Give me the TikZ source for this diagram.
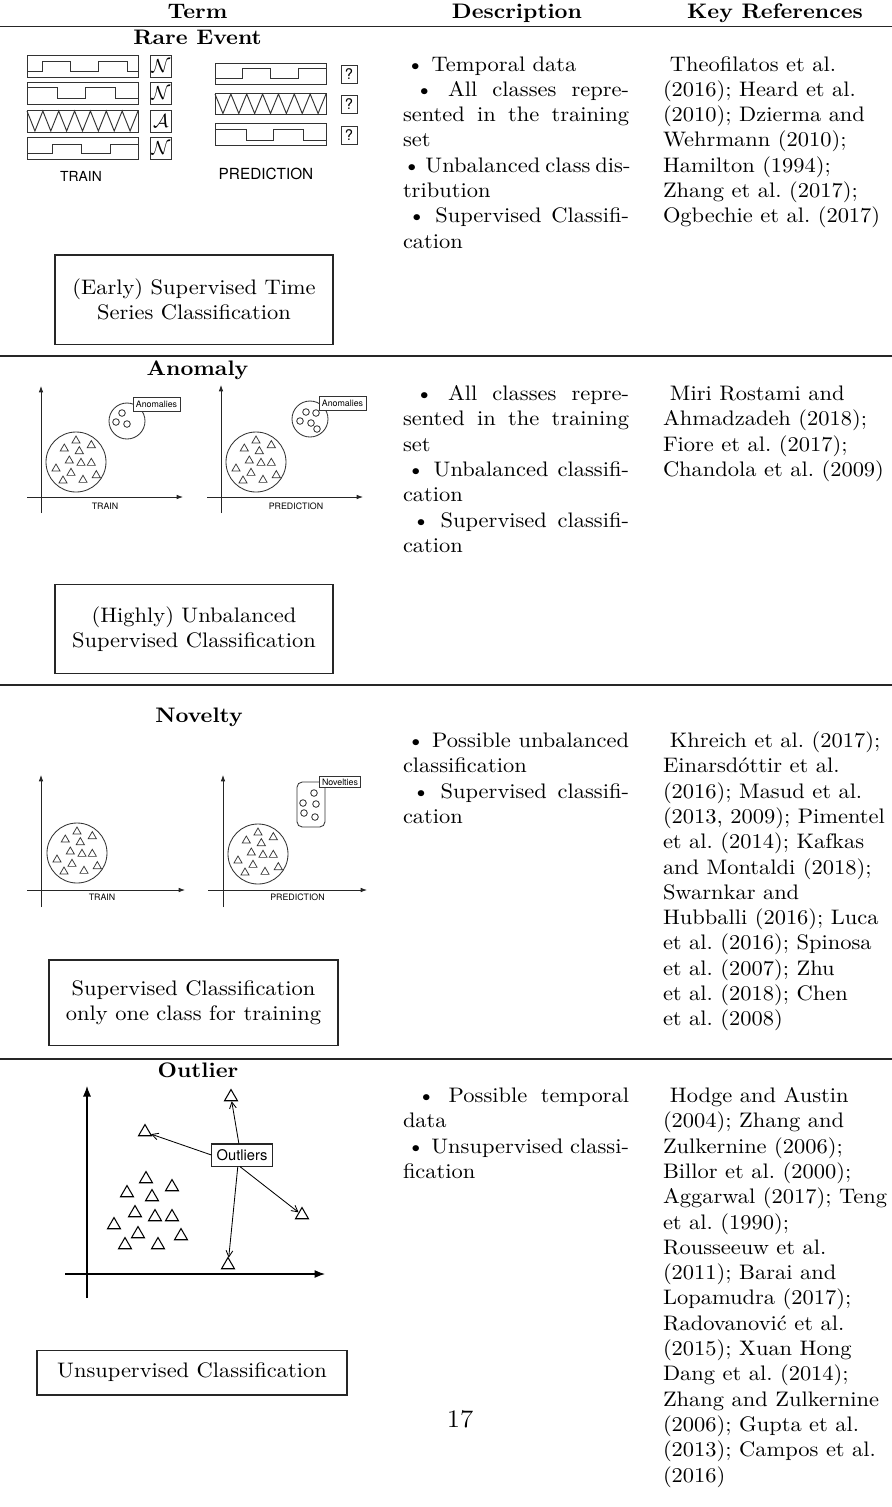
\documentclass[tikz,border=0pt]{standalone}
\usepackage{fontspec}
\usepackage{graphicx}
\newfontfamily\hv{TeX Gyre Heros}
\usetikzlibrary{arrows.meta,shapes.geometric}
% body text is set slightly wide
\newcommand\hs[1]{\scalebox{1.07}[1]{#1}}
\newlength\dw
\setlength\dw{100.6pt}
% justified description line
\newcommand\jl[1]{\makebox[\dw][s]{#1}}
% triangle cluster: prefix, centre x, centre y
\newcommand\cluster[3]{%
  \foreach \dx/\dy [count=\i] in {0/-22.3,-11.7/-14.3,15.3/-17.7,3.3/-11.7,-6.7/-2.3,5/0,15.3/0,-20/5.7,-5/10,20.3/12.3,-13/17.7,7/17}
    \node[stri] (#1\i) at (#2+\dx,#3+\dy+1) {};
  \draw[ln] (#2,#3) circle[radius=30];
}
\begin{document}
\frenchspacing
\begin{tikzpicture}[x=0.4762pt,y=-0.4762pt,
  txt/.style={anchor=base west,inner sep=0pt,outer sep=0pt},
  ttl/.style={anchor=base,inner sep=0pt,font=\bfseries},
  hrule/.style={line width=0.5pt,draw=black!85},
  ln/.style={draw=black!80,line width=0.4pt},
  wave/.style={draw=black!80,line width=0.45pt,line join=miter},
  tag/.style={draw=black!80,line width=0.45pt,inner sep=0pt,minimum width=10pt,minimum height=10.5pt,font=\small},
  qtag/.style={draw=black!80,line width=0.45pt,inner sep=0pt,minimum width=7.6pt,minimum height=8.6pt,font=\hv\fontsize{7}{8}\selectfont},
  ax/.style={draw=black!85,line width=0.4pt,-{Latex[length=3pt,width=2.2pt]}},
  bigax/.style={draw=black,line width=0.5pt,-{Latex[length=5pt,width=3.8pt]}},
  stri/.style={regular polygon,regular polygon sides=3,draw=black!80,line width=0.35pt,inner sep=0pt,minimum size=4.5pt},
  btri/.style={regular polygon,regular polygon sides=3,draw=black,line width=0.5pt,inner sep=0pt,minimum size=7.1pt},
  flag/.style={draw=black!80,fill=white,line width=0.35pt,inner sep=0pt,font=\hv\fontsize{4.2}{5}\selectfont},
  lbl/.style={anchor=base,inner sep=0pt},
  sumbox/.style={draw=black!85,line width=0.5pt,align=center,inner sep=0pt},
  oarr/.style={draw=black,line width=0.4pt,-{Straight Barb[length=3pt,width=3.2pt]}}]

\fill[white] (0,0) rectangle (892,1507);
\useasboundingbox (0,0) rectangle (892,1507);

% ---------- header ----------
\node[ttl] (hterm) at (197.5,18.5) {\hs{Term}};
\node[ttl] (hdesc) at (517,18.5) {\hs{Description}};
\node[ttl] (hrefs) at (775,18.5) {\hs{Key References}};
\draw[hrule] (0,26.7) -- (892,26.7);
\draw[hrule] (0,356) -- (892,356);
\draw[hrule] (0,685) -- (892,685);
\draw[hrule] (0,1059) -- (892,1059);

% ---------- rare event ----------
\node[ttl] (trare) at (197.5,44.3) {\hs{Rare Event}};
% training series
\draw[ln] (27,55) rectangle (138,77);
\draw[wave] (27,71) -| (42,61) -| (70,71) -| (98,61) -| (127,71) -- (138,71);
\draw[ln] (27,82.5) rectangle (138,104);
\draw[wave] (27,87.5) -| (57,98.5) -| (85,87.5) -| (115,98.5) -- (138,98.5);
\draw[ln] (27,110) rectangle (138,132);
\draw[wave] (27,111) \foreach \k in {0,...,6} { -- ({27+15.86*\k+7.93},131) -- ({27+15.86*(\k+1)},111) };
\draw[ln] (27,137.5) rectangle (138,159);
\draw[wave] (27,153.5) -| (52,144) -| (81,153.5) -| (110,144) -- (138,144);
\node[tag] (n1) at (161,66) {$\mathcal{N}$};
\node[tag] (n2) at (161,93.2) {$\mathcal{N}$};
\node[tag] (a3) at (161,121) {$\mathcal{A}$};
\node[tag] (n4) at (161,148.2) {$\mathcal{N}$};
% prediction series
\draw[ln] (215,63) rectangle (326,84.5);
\draw[wave] (215,78.5) -| (242,68.5) -| (270,78.5) -| (298,68.5) -- (326,68.5);
\draw[ln] (215,93) rectangle (326,114.5);
\draw[wave] (215,94) \foreach \k in {0,...,6} { -- ({215+15.86*\k+7.93},113.5) -- ({215+15.86*(\k+1)},94) };
\draw[ln] (215,123) rectangle (326,145);
\draw[wave] (215,129.5) -| (246,140) -| (273,129.5) -| (303,140) -- (326,140);
\node[qtag] (q1) at (349,74) {?};
\node[qtag] (q2) at (349,104) {?};
\node[qtag] (q3) at (349,135) {?};
\node[lbl,font=\hv\fontsize{6.6}{8}\selectfont] (ctrain1) at (81,181.5) {TRAIN};
\node[lbl,font=\hv\fontsize{7.3}{8}\selectfont] (cpred1) at (266,179.5) {PREDICTION};
\node[sumbox,minimum width=132.4pt,minimum height=42.4pt] (sum1) at (194,299.5) {\hs{(Early) Supervised Time}\\\hs{Series Classification}};

% ---------- anomaly ----------
\node[ttl] (tanom) at (197.5,375) {\hs{Anomaly}};
\draw[ax] (41,513) -- (41,386);
\draw[ax] (27,497) -- (183,497);
\cluster{at}{76}{462}
\draw[ln] (127,421) circle[radius=18];
\foreach \px/\py in {122/413,116/422,127/424} \draw[ln] (\px,\py) circle[radius=3.3];
\node[flag,minimum width=22.4pt,minimum height=6.8pt] (fa1) at (156.5,404.5) {Anomalies};
\node[lbl,font=\hv\fontsize{4.2}{5}\selectfont] (ctrain2) at (105,509.5) {TRAIN};
\draw[ax] (221,513) -- (221,385);
\draw[ax] (207,497) -- (363,497);
\cluster{ap}{256}{462}
\draw[ln] (310,419) circle[radius=18];
\foreach \px/\py in {306/412,316/413,300/421,311/423,317/429} \draw[ln] (\px,\py) circle[radius=3.3];
\node[flag,minimum width=22.4pt,minimum height=6.4pt] (fa2) at (342.5,403.5) {Anomalies};
\node[lbl,font=\hv\fontsize{4.2}{5}\selectfont] (cpred2) at (296,509) {PREDICTION};
\node[sumbox,minimum width=132.4pt,minimum height=42.4pt] (sum2) at (194,629) {\hs{(Highly) Unbalanced}\\\hs{Supervised Classification}};

% ---------- novelty ----------
\node[ttl] (tnov) at (199,722.7) {\hs{Novelty}};
\draw[ax] (41,907) -- (41,775);
\draw[ax] (27,890) -- (185,890);
\cluster{nt}{77}{853}
\node[lbl,font=\hv\fontsize{4.2}{5}\selectfont] (ctrain3) at (102,900.7) {TRAIN};
\draw[ax] (223,907) -- (223,775);
\draw[ax] (208,890) -- (367,890);
\cluster{np}{258}{854}
\draw[ln,rounded corners=2.5pt] (297,782) rectangle (325,827);
\foreach \px/\py in {314/793,303/803,316/804,304/813,315/817} \draw[ln] (\px,\py) circle[radius=3.3];
\node[flag,minimum width=19.7pt,minimum height=5.2pt] (fn) at (340,782) {Novelties};
\node[lbl,font=\hv\fontsize{4.2}{5}\selectfont] (cpred3) at (297.5,900.7) {PREDICTION};
\node[sumbox,minimum width=137.6pt,minimum height=40.5pt] (sum3) at (193.5,1002.5) {\hs{Supervised Classification}\\\hs{only one class for training}};

% ---------- outlier ----------
\node[ttl] (tout) at (198,1077) {\hs{Outlier}};
\draw[bigax] (87,1298) -- (87,1086);
\draw[bigax] (65,1274) -- (325,1274);
\foreach \px/\py [count=\i] in {146/1177,127/1191,172/1185,152/1195,135/1211,155/1215,172/1215,114/1223,138/1232,181/1234,125/1243,158/1243}
  \node[btri] (oc\i) at (\px,\py+2) {};
\node[btri] (ot1) at (231,1097) {};
\node[btri] (ot2) at (145,1132) {};
\node[btri] (ot3) at (302,1215) {};
\node[btri] (ot4) at (228,1265) {};
\node[draw=black!85,line width=0.5pt,fill=white,inner sep=0pt,minimum width=28.6pt,minimum height=10.5pt,font=\hv\fontsize{7}{8}\selectfont] (outl) at (242,1155) {Outliers};
\draw[oarr] ([xshift=-1.5pt]outl.north) -- (ot1);
\draw[oarr] (outl.west) -- (ot2);
\draw[oarr] ([xshift=-1pt]outl.south) -- (ot3);
\draw[oarr] ([xshift=-2pt]outl.south) -- (ot4);
\node[sumbox,minimum width=147.6pt,minimum height=21.4pt] (sum4) at (192,1372.5) {\hs{Unsupervised Classification}};

% ---------- description column ----------
\foreach \t [count=\i from 0] in {
  {\hspace*{1.6pt}\textbullet\ Temporal data},
  {\jl{\hspace*{5.6pt}\textbullet\ All classes repre-}},
  {\jl{sented in the training}},
  {set},
  {\jl{\textbullet\ Unbalanced class dis-}},
  {tribution},
  {\jl{\hspace*{2.3pt}\textbullet\ Supervised Classifi-}},
  {cation}}
  \node[txt] (dr\i) at (403,71+25.3*\i) {\hs{\t}};
\foreach \t [count=\i from 0] in {
  {\jl{\hspace*{5.6pt}\textbullet\ All classes repre-}},
  {\jl{sented in the training}},
  {set},
  {\jl{\hspace*{1.8pt}\textbullet\ Unbalanced classifi-}},
  {cation},
  {\jl{\hspace*{4.2pt}\textbullet\ Supervised classifi-}},
  {cation}}
  \node[txt] (da\i) at (403,400.5+25.3*\i) {\hs{\t}};
\foreach \t [count=\i from 0] in {
  {\jl{\hspace*{1.8pt}\textbullet\ Possible unbalanced}},
  {classification},
  {\jl{\hspace*{4.2pt}\textbullet\ Supervised classifi-}},
  {cation}}
  \node[txt] (dn\i) at (403,747.5+25.3*\i) {\hs{\t}};
\foreach \t [count=\i from 0] in {
  {\jl{\hspace*{6.5pt}\textbullet\ Possible temporal}},
  {data},
  {\jl{\hspace*{1.8pt}\textbullet\ Unsupervised classi-}},
  {fication}}
  \node[txt] (do\i) at (403,1102.5+25.3*\i) {\hs{\t}};

% ---------- reference column ----------
\foreach \t [count=\i from 0] in {
  {\hspace*{3.1pt}Theofilatos et al.},
  {(2016); Heard et al.},
  {(2010); Dzierma and},
  {Wehrmann (2010);},
  {Hamilton (1994);},
  {Zhang et al. (2017);},
  {Ogbechie et al. (2017)}}
  \node[txt] (kr\i) at (663,71+25.3*\i) {\hs{\t}};
\foreach \t [count=\i from 0] in {
  {\hspace*{3.1pt}Miri Rostami and},
  {Ahmadzadeh (2018);},
  {Fiore et al. (2017);},
  {Chandola et al. (2009)}}
  \node[txt] (ka\i) at (663,400.5+25.3*\i) {\hs{\t}};
\foreach \t [count=\i from 0] in {
  {\hspace*{3.1pt}Khreich et al. (2017);},
  {Einarsdóttir et al.},
  {(2016); Masud et al.},
  {(2013, 2009); Pimentel},
  {et al. (2014); Kafkas},
  {and Montaldi (2018);},
  {Swarnkar and},
  {Hubballi (2016); Luca},
  {et al. (2016); Spinosa},
  {et al. (2007); Zhu},
  {et al. (2018); Chen},
  {et al. (2008)}}
  \node[txt] (kn\i) at (663,747.5+25.3*\i) {\hs{\t}};
\foreach \t [count=\i from 0] in {
  {\hspace*{3.1pt}Hodge and Austin},
  {(2004); Zhang and},
  {Zulkernine (2006);},
  {Billor et al. (2000);},
  {Aggarwal (2017); Teng},
  {et al. (1990);},
  {Rousseeuw et al.},
  {(2011); Barai and},
  {Lopamudra (2017);},
  {Radovanović et al.},
  {(2015); Xuan Hong},
  {Dang et al. (2014);},
  {Zhang and Zulkernine},
  {(2006); Gupta et al.},
  {(2013); Campos et al.},
  {(2016)}}
  \node[txt] (ko\i) at (663,1102.5+25.3*\i) {\hs{\t}};

\node[anchor=base,inner sep=0pt,font=\large] (pgno) at (460,1427) {\hs{17}};
\end{tikzpicture}
\end{document}
